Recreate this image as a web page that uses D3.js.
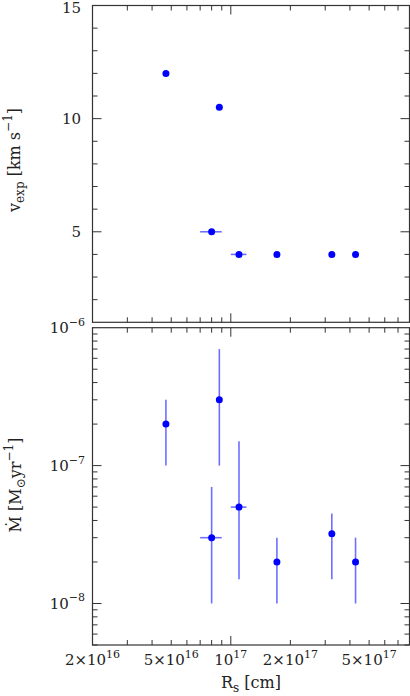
<!DOCTYPE html>
<html><head><meta charset="utf-8">
<script src="https://cdn.jsdelivr.net/npm/d3@7"></script>
<style>
body{margin:0;background:#fff}
svg{display:block}
text{font-family:"DejaVu Serif","Liberation Serif",serif;fill:#222}
</style></head>
<body><svg id="c" width="410" height="696"></svg>
<script>
// ---- data ----
const radius   = [4.7e16, 8.75e16, 8.0e16, 1.1e17, 1.71e17, 3.24e17, 4.27e17];
const radiusLo = [null,   null,    7.0e16, 1.0e17, null,    null,    null];
const radiusHi = [null,   null,    9.0e16, 1.2e17, null,    null,    null];
const vexp     = [12, 10.5, 5, 4, 4, 4, 4];
const mdot     = [2e-7, 3e-7, 3e-8, 5e-8, 2e-8, 3.2e-8, 2e-8];
const mdotLo   = [1e-7, 1e-7, 1e-8, 1.5e-8, 1e-8, 1.5e-8, 1e-8];
const mdotHi   = [3e-7, 7e-7, 7e-8, 1.5e-7, 3e-8, 4.5e-8, 3e-8];
const xTickVals   = [2e16, 5e16, 1e17, 2e17, 5e17];
const xTickLabels = [["2×10","16"],["5×10","16"],["10","17"],["2×10","17"],["5×10","17"]];
const vTickVals   = [5, 10, 15];
const mTickVals   = [1e-8, 1e-7, 1e-6];
const mTickLabels = [["10","−8"],["10","−7"],["10","−6"]];

// ---- layout ----
const svg = d3.select("#c");
const L = 92.5, R = 409.5;
const top1 = 5.5, bot1 = 322.3, top2 = 327.7, bot2 = 645;
const x = d3.scaleLog().domain([2e16, 8e17]).range([L, R]);
const yv = d3.scaleLinear().domain([1, 15]).range([bot1, top1]);
const ym = d3.scaleLog().domain([5e-9, 1e-6]).range([bot2, top2]);
const axisCol = "#333";
const errCol = "#6f6fff";
const ptCol = "#0000ff";
const FS = 15, FSS = 11, FT = 16, FTS = 12;

function xMinor(){
  const t=[];
  for(let e=16;e<=17;e++) for(let m=1;m<=9;m++){const v=m*Math.pow(10,e); if(v>=2e16&&v<=8e17) t.push(v);}
  return t;
}

function frame(y0, y1){
  svg.append("rect").attr("x",L).attr("y",y0).attr("width",R-L).attr("height",y1-y0)
    .attr("fill","none").attr("stroke",axisCol).attr("stroke-width",1.2);
  const g = svg.append("g").attr("stroke",axisCol).attr("stroke-width",1);
  xMinor().forEach(v=>{
    const len = (v===1e17)?9:5;
    const px = x(v);
    g.append("line").attr("x1",px).attr("x2",px).attr("y1",y1).attr("y2",y1-len);
    g.append("line").attr("x1",px).attr("x2",px).attr("y1",y0).attr("y2",y0+len);
  });
  return g;
}

// top panel
const g1 = frame(top1, bot1);
for(let v=2; v<=14; v++){
  const len = (v%5===0)?9:5;
  const py = yv(v);
  g1.append("line").attr("x1",L).attr("x2",L+len).attr("y1",py).attr("y2",py);
  g1.append("line").attr("x1",R).attr("x2",R-len).attr("y1",py).attr("y2",py);
}
vTickVals.forEach(v=>{
  svg.append("text").attr("x",81).attr("y",Math.max(yv(v)+5.5,13)).attr("text-anchor","end")
    .attr("font-size",FS).text(v);
});

// bottom panel
const g2 = frame(top2, bot2);
const mMinor=[];
for(let e=-9;e<=-7;e++) for(let m=1;m<=9;m++){const v=m*Math.pow(10,e); if(v>=5e-9*0.999&&v<=1e-6*1.001) mMinor.push(v);}
mMinor.forEach(v=>{
  const lg = Math.log10(v);
  const major = Math.abs(lg-Math.round(lg))<1e-9;
  const len = major?9:5;
  const py = ym(v);
  g2.append("line").attr("x1",L).attr("x2",L+len).attr("y1",py).attr("y2",py);
  g2.append("line").attr("x1",R).attr("x2",R-len).attr("y1",py).attr("y2",py);
});
mTickVals.forEach((v,i)=>{
  const t = svg.append("text").attr("x",85).attr("y",ym(v)+5.5).attr("text-anchor","end").attr("font-size",FS);
  t.append("tspan").text(mTickLabels[i][0]);
  t.append("tspan").attr("dy",-7.5).attr("font-size",FSS).text(mTickLabels[i][1]);
});

// x tick labels
xTickVals.forEach((v,i)=>{
  const t = svg.append("text").attr("x",x(v)).attr("y",665).attr("text-anchor","middle").attr("font-size",FS);
  t.append("tspan").text(xTickLabels[i][0]);
  t.append("tspan").attr("dy",-7.5).attr("font-size",FSS).text(xTickLabels[i][1]);
});

// axis titles
const xl = svg.append("text").attr("x",251).attr("y",688).attr("text-anchor","middle").attr("font-size",FT);
xl.append("tspan").text("R");
xl.append("tspan").attr("dy",4).attr("font-size",FTS).text("s");
xl.append("tspan").attr("dy",-4).text(" [cm]");

const yl1 = svg.append("text").attr("transform","translate(20,160) rotate(-90)").attr("text-anchor","middle").attr("font-size",FT);
yl1.append("tspan").text("v");
yl1.append("tspan").attr("dy",4).attr("font-size",FTS).text("exp");
yl1.append("tspan").attr("dy",-4).text(" [km s");
yl1.append("tspan").attr("dy",-8).attr("font-size",FTS).text("−1");
yl1.append("tspan").attr("dy",8).text("]");

const yl2 = svg.append("text").attr("transform","translate(21,485) rotate(-90)").attr("text-anchor","middle").attr("font-size",FT);
yl2.append("tspan").text("Ṁ [M");
yl2.append("tspan").attr("dy",4).attr("font-size",FTS).text("⊙");
yl2.append("tspan").attr("dy",-4).text("yr");
yl2.append("tspan").attr("dy",-8).attr("font-size",FTS).text("−1");
yl2.append("tspan").attr("dy",8).text("]");

// data marks
const idx = d3.range(radius.length);
svg.append("g").selectAll("line").data(idx.filter(i=>radiusLo[i]!==null)).join("line")
  .attr("x1",i=>x(radiusLo[i])).attr("x2",i=>x(radiusHi[i]))
  .attr("y1",i=>yv(vexp[i])).attr("y2",i=>yv(vexp[i]))
  .attr("stroke",errCol).attr("stroke-width",1.6);
svg.append("g").selectAll("circle").data(idx).join("circle")
  .attr("cx",i=>x(radius[i])).attr("cy",i=>yv(vexp[i])).attr("r",3.5).attr("fill",ptCol);

svg.append("g").selectAll("line").data(idx).join("line")
  .attr("x1",i=>x(radius[i])).attr("x2",i=>x(radius[i]))
  .attr("y1",i=>ym(mdotLo[i])).attr("y2",i=>ym(mdotHi[i]))
  .attr("stroke",errCol).attr("stroke-width",1.6);
svg.append("g").selectAll("line").data(idx.filter(i=>radiusLo[i]!==null)).join("line")
  .attr("x1",i=>x(radiusLo[i])).attr("x2",i=>x(radiusHi[i]))
  .attr("y1",i=>ym(mdot[i])).attr("y2",i=>ym(mdot[i]))
  .attr("stroke",errCol).attr("stroke-width",1.6);
svg.append("g").selectAll("circle").data(idx).join("circle")
  .attr("cx",i=>x(radius[i])).attr("cy",i=>ym(mdot[i])).attr("r",3.5).attr("fill",ptCol);
</script></body></html>
